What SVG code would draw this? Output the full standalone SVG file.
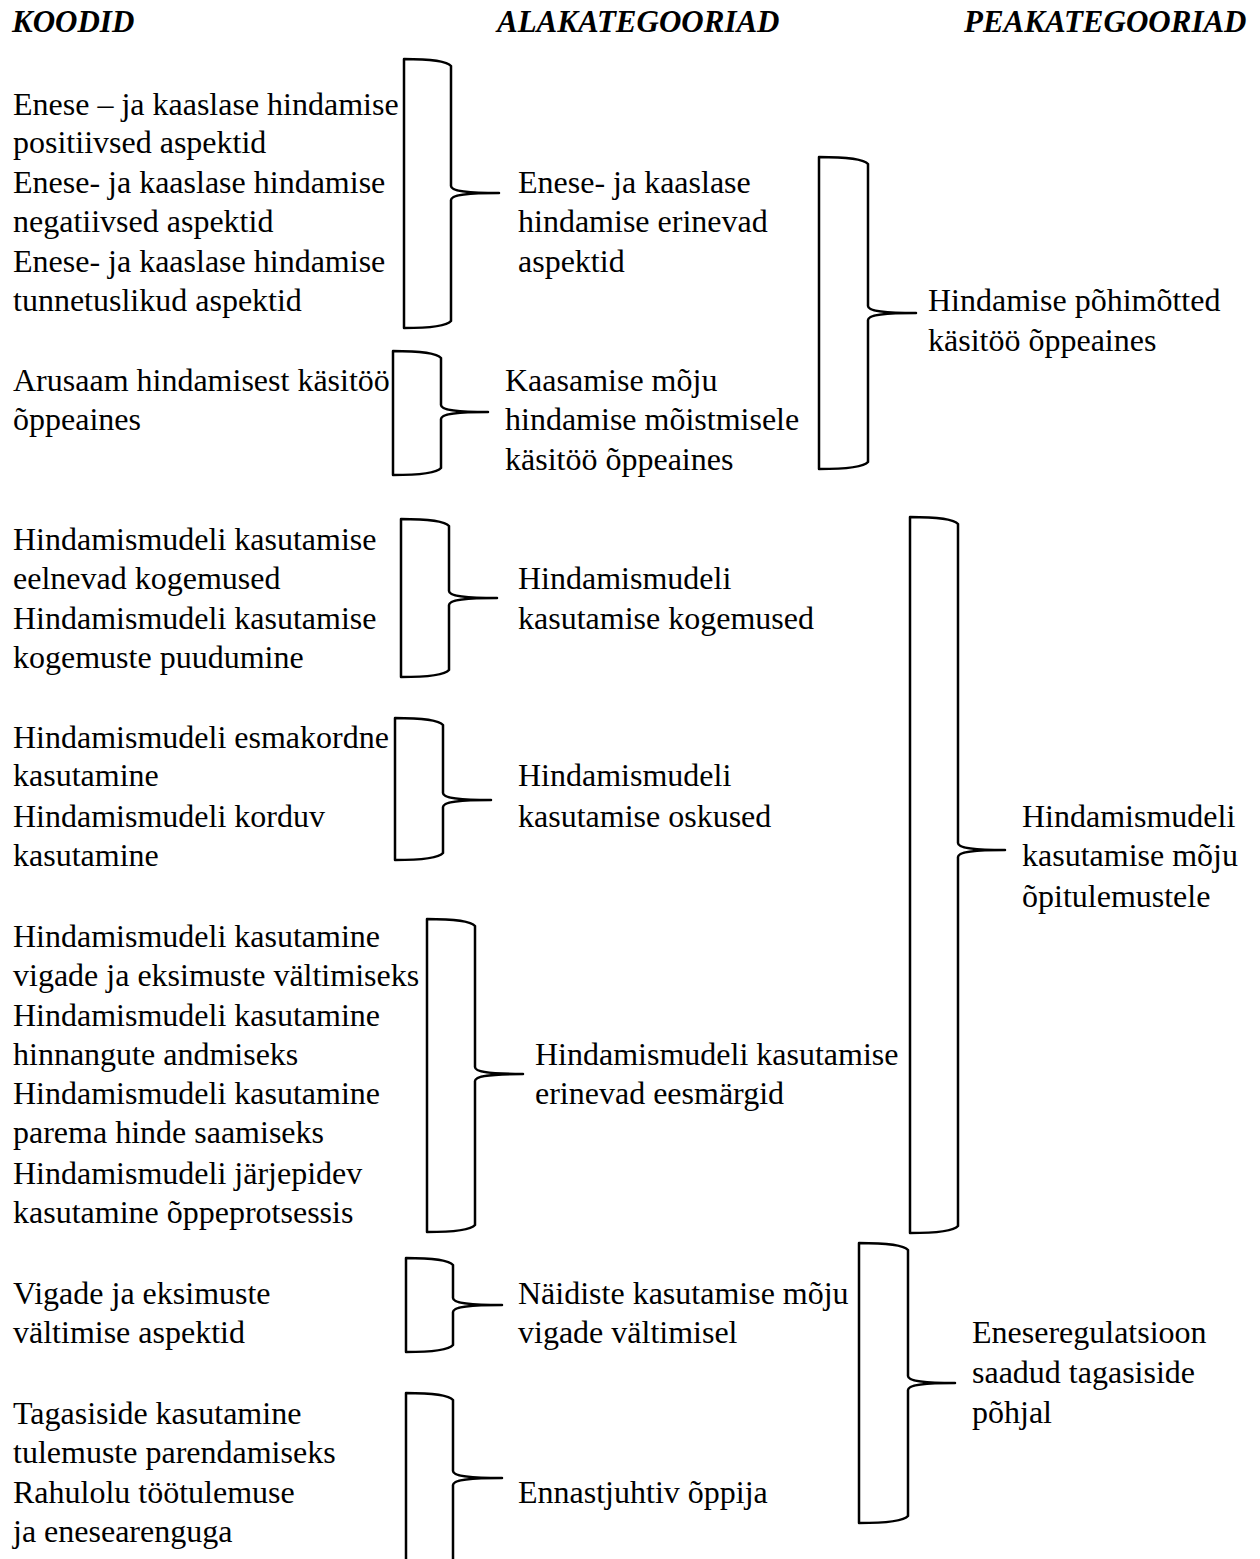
<svg xmlns="http://www.w3.org/2000/svg" width="1260" height="1559" viewBox="0 0 1260 1559">
<style>
text{font-family:"Liberation Serif","Times New Roman",serif;font-size:32px;fill:#000}
.h{font-weight:bold;font-style:italic;font-size:31px}
.br{fill:none;stroke:#000;stroke-width:2.5;stroke-linejoin:round}
</style>
<rect width="1260" height="1559" fill="#fff"/>
<g id="headers">
<text class="h" x="12" y="32">KOODID</text>
<text class="h" x="497" y="32">ALAKATEGOORIAD</text>
<text class="h" x="964" y="32">PEAKATEGOORIAD</text>
</g>
<g id="connectors">
<path class="br" d="M404,59 C425,59 446,60 451,66 L451,186 C451,191 466,193 499,193 C466,193 451,195 451,200 L451,321 C446,327 425,328 404,328 Z"/>
<path class="br" d="M393,351 C414,351 436,352 441,358 L441,405 C441,410 456,412 488,412 C456,412 441,414 441,419 L441,468 C436,474 414,475 393,475 Z"/>
<path class="br" d="M819,157 C840,157 863,158 868,164 L868,306 C868,311 883,313 916,313 C883,313 868,315 868,320 L868,462 C863,468 840,469 819,469 Z"/>
<path class="br" d="M401,519 C422,519 444,520 449,526 L449,591 C449,596 464,598 497,598 C464,598 449,600 449,605 L449,670 C444,676 422,677 401,677 Z"/>
<path class="br" d="M395,718 C416,718 438,719 443,725 L443,793 C443,798 458,800 491,800 C458,800 443,802 443,807 L443,853 C438,859 416,860 395,860 Z"/>
<path class="br" d="M427,919 C448,919 470,920 475,926 L475,1067 C475,1072 490,1074 523,1074 C490,1074 475,1076 475,1081 L475,1225 C470,1231 448,1232 427,1232 Z"/>
<path class="br" d="M406,1258 C427,1258 448,1259 453,1265 L453,1298 C453,1303 468,1305 502,1305 C468,1305 453,1307 453,1312 L453,1345 C448,1351 427,1352 406,1352 Z"/>
<path class="br" d="M406,1393 C427,1393 448,1394 453,1400 L453,1471 C453,1476 468,1478 502,1478 C468,1478 453,1480 453,1485 L453,1593 C448,1599 427,1600 406,1600 Z"/>
<path class="br" d="M910,517 C931,517 953,518 958,524 L958,843 C958,848 973,850 1005,850 C973,850 958,852 958,857 L958,1226 C953,1232 931,1233 910,1233 Z"/>
<path class="br" d="M859,1243 C880,1243 903,1244 908,1250 L908,1376 C908,1381 923,1383 955,1383 C923,1383 908,1385 908,1390 L908,1516 C903,1522 880,1523 859,1523 Z"/>
</g>
<g id="codes1">
<text x="13" y="115">Enese – ja kaaslase hindamise</text>
<text x="13" y="153">positiivsed aspektid</text>
<text x="13" y="193">Enese- ja kaaslase hindamise</text>
<text x="13" y="232">negatiivsed aspektid</text>
<text x="13" y="272">Enese- ja kaaslase hindamise</text>
<text x="13" y="311">tunnetuslikud aspektid</text>
</g>
<g id="codes2">
<text x="13" y="391">Arusaam hindamisest käsitöö</text>
<text x="13" y="430">õppeaines</text>
</g>
<g id="codes3">
<text x="13" y="550">Hindamismudeli kasutamise</text>
<text x="13" y="589">eelnevad kogemused</text>
<text x="13" y="629">Hindamismudeli kasutamise</text>
<text x="13" y="668">kogemuste puudumine</text>
</g>
<g id="codes4">
<text x="13" y="748">Hindamismudeli esmakordne</text>
<text x="13" y="786">kasutamine</text>
<text x="13" y="827">Hindamismudeli korduv</text>
<text x="13" y="866">kasutamine</text>
</g>
<g id="codes5">
<text x="13" y="947">Hindamismudeli kasutamine</text>
<text x="13" y="986">vigade ja eksimuste vältimiseks</text>
<text x="13" y="1026">Hindamismudeli kasutamine</text>
<text x="13" y="1065">hinnangute andmiseks</text>
<text x="13" y="1104">Hindamismudeli kasutamine</text>
<text x="13" y="1143">parema hinde saamiseks</text>
<text x="13" y="1184">Hindamismudeli järjepidev</text>
<text x="13" y="1223">kasutamine õppeprotsessis</text>
</g>
<g id="codes6">
<text x="13" y="1304">Vigade ja eksimuste</text>
<text x="13" y="1343">vältimise aspektid</text>
</g>
<g id="codes7">
<text x="13" y="1424">Tagasiside kasutamine</text>
<text x="13" y="1463">tulemuste parendamiseks</text>
<text x="13" y="1503">Rahulolu töötulemuse</text>
<text x="13" y="1542">ja enesearenguga</text>
</g>
<g id="sub1">
<text x="518" y="193">Enese- ja kaaslase</text>
<text x="518" y="232">hindamise erinevad</text>
<text x="518" y="272">aspektid</text>
</g>
<g id="sub2">
<text x="505" y="391">Kaasamise mõju</text>
<text x="505" y="430">hindamise mõistmisele</text>
<text x="505" y="470">käsitöö õppeaines</text>
</g>
<g id="sub3">
<text x="518" y="589">Hindamismudeli</text>
<text x="518" y="629">kasutamise kogemused</text>
</g>
<g id="sub4">
<text x="518" y="786">Hindamismudeli</text>
<text x="518" y="827">kasutamise oskused</text>
</g>
<g id="sub5">
<text x="535" y="1065">Hindamismudeli kasutamise</text>
<text x="535" y="1104">erinevad eesmärgid</text>
</g>
<g id="sub6">
<text x="518" y="1304">Näidiste kasutamise mõju</text>
<text x="518" y="1343">vigade vältimisel</text>
</g>
<g id="sub7">
<text x="518" y="1503">Ennastjuhtiv õppija</text>
</g>
<g id="main1">
<text x="928" y="311">Hindamise põhimõtted</text>
<text x="928" y="351">käsitöö õppeaines</text>
</g>
<g id="main2">
<text x="1022" y="827">Hindamismudeli</text>
<text x="1022" y="866">kasutamise mõju</text>
<text x="1022" y="907">õpitulemustele</text>
</g>
<g id="main3">
<text x="972" y="1343">Eneseregulatsioon</text>
<text x="972" y="1383">saadud tagasiside</text>
<text x="972" y="1423">põhjal</text>
</g>
</svg>
